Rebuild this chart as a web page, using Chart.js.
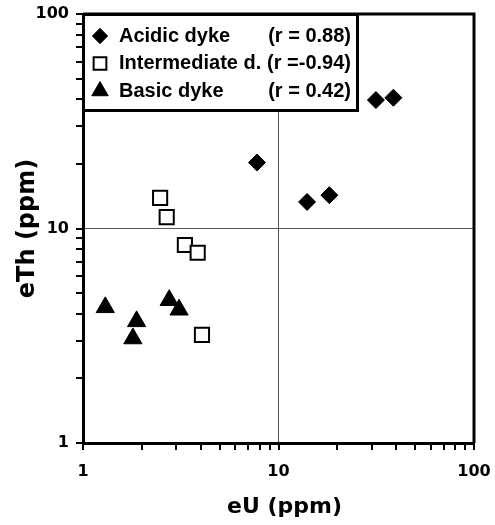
<!DOCTYPE html>
<html>
<head>
<meta charset="utf-8">
<script src="https://cdn.jsdelivr.net/npm/chart.js@4.4.0/dist/chart.umd.min.js"></script>
<style>
  html, body { margin: 0; padding: 0; background: #fff; }
  #wrap { width: 495px; height: 525px; }
</style>
</head>
<body>
<div id="wrap"><canvas id="plot" width="495" height="525"></canvas></div>
<script>
// eU / eTh (ppm)
var seriesNames = ["Acidic dyke", "Intermediate d.", "Basic dyke"];
var seriesR = ["(r = 0.88)", "(r =-0.94)", "(r = 0.42)"];
var xTitle = "eU (ppm)";
var yTitle = "eTh (ppm)";

var acidicU = [7.76, 31.5, 38.7, 14.0, 18.2];
var acidicTh = [20.3, 39.7, 40.7, 13.3, 14.3];

var interU = [2.48, 2.68, 3.32, 3.86, 4.06];
var interTh = [13.9, 11.3, 8.38, 7.71, 3.19];

var basicU = [1.30, 1.88, 1.80, 2.76, 3.10];
var basicTh = [4.29, 3.69, 3.07, 4.63, 4.18];

var decadeTicks = [1, 10, 100];
var minorTicks = [2, 3, 4, 5, 6, 7, 8, 9, 20, 30, 40, 50, 60, 70, 80, 90];

function toPoints(xs, ys) {
  return xs.map(function (x, i) { return { x: x, y: ys[i] }; });
}

function gridColor(c) {
  return c.tick && c.tick.value === 10 ? "#555" : "rgba(0,0,0,0)";
}

function decadeLabel(v) {
  return decadeTicks.indexOf(v) >= 0 ? String(v) : "";
}

// tick marks, frame on top/right, x title, custom legend box
var framePlugin = {
  id: "frame",
  afterDraw: function (chart) {
    var ctx = chart.ctx;
    var a = chart.chartArea;
    var xs = chart.scales.x, ys = chart.scales.y;
    ctx.save();
    ctx.strokeStyle = "#000";

    // tick marks (outside)
    ctx.lineWidth = 2;
    ctx.beginPath();
    decadeTicks.concat(minorTicks).forEach(function (v) {
      var px = Math.round(xs.getPixelForValue(v));
      ctx.moveTo(px, a.bottom);
      ctx.lineTo(px, a.bottom + 7);
      var py = Math.round(ys.getPixelForValue(v));
      ctx.moveTo(a.left, py);
      ctx.lineTo(a.left - 7, py);
    });
    ctx.stroke();

    ctx.lineWidth = 3;
    ctx.beginPath();
    ctx.moveTo(a.left, a.top);
    ctx.lineTo(a.right, a.top);
    ctx.lineTo(a.right, a.bottom);
    ctx.stroke();

    // x axis title
    ctx.fillStyle = "#000";
    ctx.font = "bold 22px 'DejaVu Sans', sans-serif";
    ctx.textAlign = "center";
    ctx.textBaseline = "middle";
    ctx.fillText(xTitle, (a.left + a.right) / 2 + 6, 507);

    // legend
    var bx = a.left, by = a.top, bw = 275, bh = 97;
    ctx.fillStyle = "#fff";
    ctx.fillRect(bx, by, bw, bh);
    ctx.lineWidth = 3;
    ctx.strokeRect(bx + 0.5, by + 0.5, bw - 1, bh - 1);

    ctx.font = "bold 20px 'Liberation Sans', Arial, sans-serif";
    chart.data.datasets.forEach(function (ds, i) {
      var y = by + 22 + i * 27.5;
      ctx.fillStyle = ds.backgroundColor;
      ctx.strokeStyle = ds.borderColor;
      ctx.lineWidth = ds.borderWidth;
      Chart.helpers.drawPoint(ctx, {
        pointStyle: ds.pointStyle,
        radius: ds.pointRadius * 0.9,
        rotation: 0,
        borderWidth: ds.borderWidth
      }, bx + 17, y);
      ctx.fillStyle = "#000";
      ctx.textAlign = "left";
      ctx.fillText(ds.label, bx + 36, y);
      ctx.textAlign = "right";
      ctx.fillText(seriesR[i], bx + bw - 7, y);
    });
    ctx.restore();
  }
};

var tickFont = { family: "'DejaVu Sans', sans-serif", size: 16, weight: "bold" };

new Chart(document.getElementById("plot"), {
  type: "scatter",
  data: {
    datasets: [
      {
        label: seriesNames[0],
        data: toPoints(acidicU, acidicTh),
        pointStyle: "rectRot",
        pointRadius: 8.5,
        backgroundColor: "#000",
        borderColor: "#000",
        borderWidth: 1
      },
      {
        label: seriesNames[1],
        data: toPoints(interU, interTh),
        pointStyle: "rect",
        pointRadius: 10,
        backgroundColor: "#fff",
        borderColor: "#000",
        borderWidth: 2
      },
      {
        label: seriesNames[2],
        data: toPoints(basicU, basicTh),
        pointStyle: "triangle",
        pointRadius: 10.5,
        backgroundColor: "#000",
        borderColor: "#000",
        borderWidth: 1
      }
    ]
  },
  options: {
    responsive: false,
    animation: false,
    layout: { padding: { top: 14, right: 21, left: 0, bottom: 0 } },
    plugins: {
      legend: { display: false },
      tooltip: { enabled: false }
    },
    scales: {
      x: {
        type: "logarithmic",
        min: 1,
        max: 100,
        afterFit: function (s) {
          s.height = 82;
          s.paddingLeft = 0;
          s.paddingRight = 0;
        },
        border: { color: "#000", width: 3 },
        grid: {
          color: gridColor,
          lineWidth: 1,
          tickColor: "rgba(0,0,0,0)",
          tickLength: 7
        },
        ticks: {
          autoSkip: false,
          maxRotation: 0,
          padding: 12,
          color: "#000",
          font: tickFont,
          callback: decadeLabel
        }
      },
      y: {
        type: "logarithmic",
        min: 1,
        max: 100,
        afterFit: function (s) {
          s.width = 83;
          s.paddingTop = 0;
          s.paddingBottom = 0;
        },
        border: { color: "#000", width: 3 },
        grid: {
          color: gridColor,
          lineWidth: 1,
          tickColor: "rgba(0,0,0,0)",
          tickLength: 7
        },
        ticks: {
          autoSkip: false,
          padding: 7,
          color: "#000",
          font: tickFont,
          callback: decadeLabel
        },
        title: {
          display: true,
          text: yTitle,
          color: "#000",
          font: { family: "'DejaVu Sans', sans-serif", size: 24, weight: "bold" },
          padding: { top: 13, bottom: 0 }
        }
      }
    }
  },
  plugins: [framePlugin]
});
</script>
</body>
</html>
